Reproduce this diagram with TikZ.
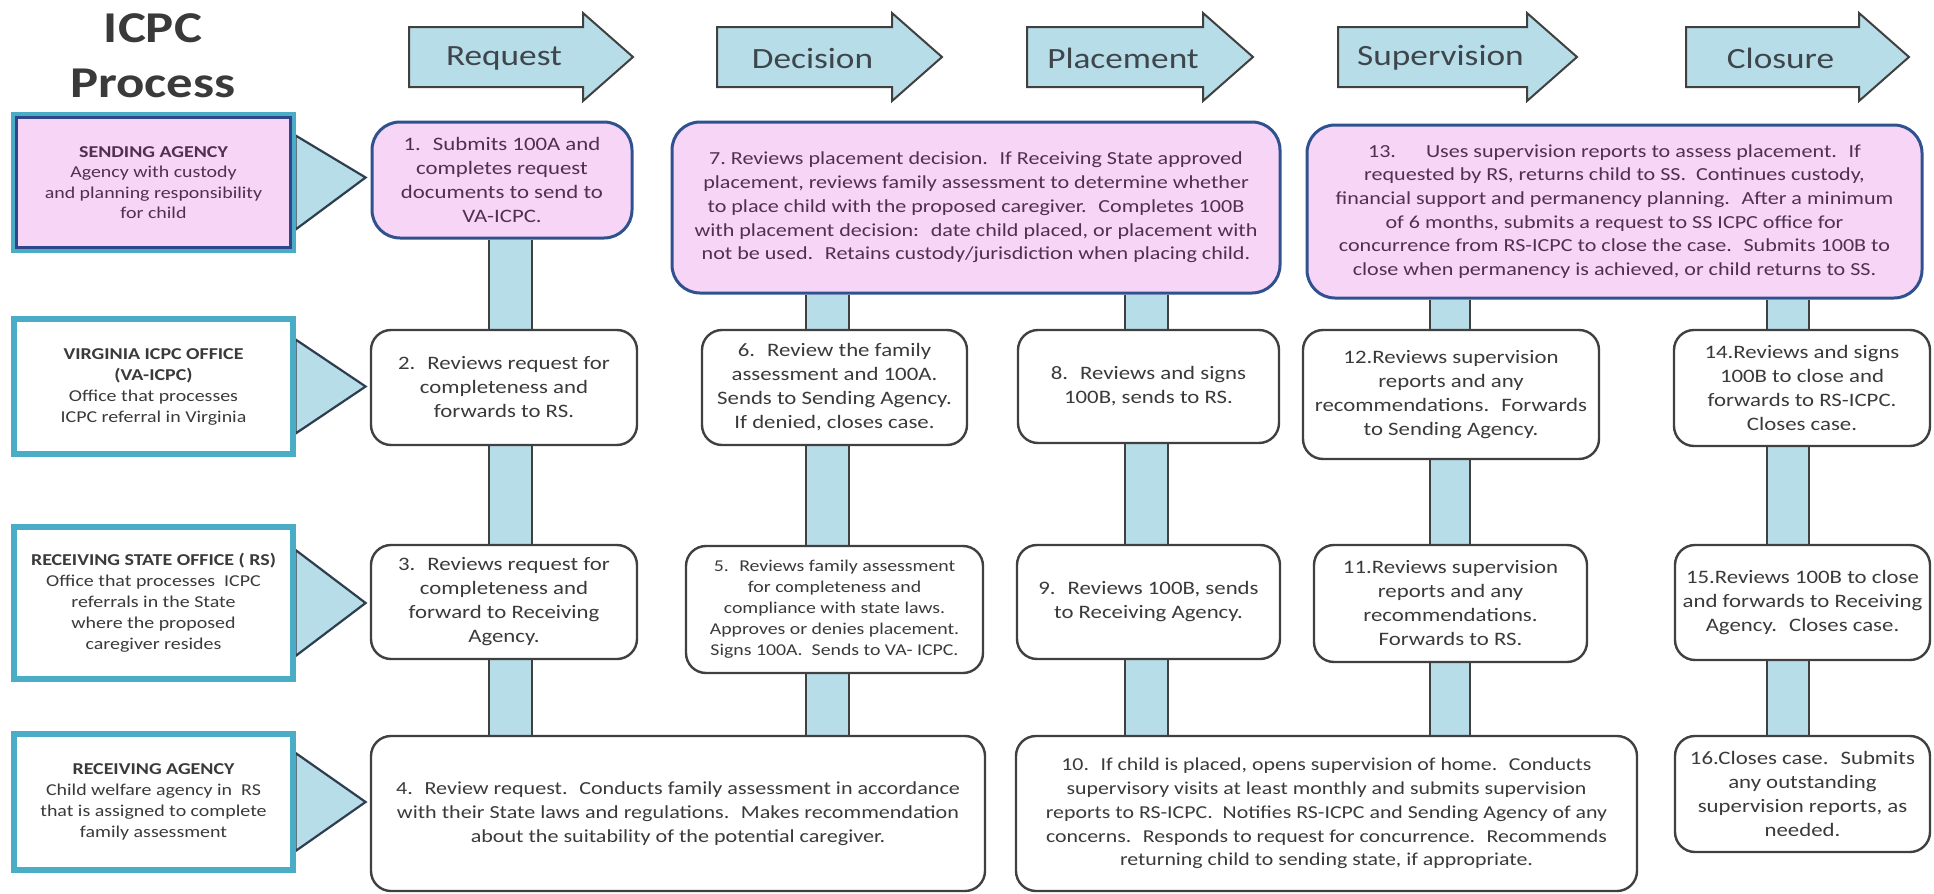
\documentclass[tikz,border=0pt]{standalone}
\usepackage{fontspec}
\setmainfont{Carlito}[FakeStretch=1.2]
\usetikzlibrary{calc}
\pgfdeclarelayer{bg}
\pgfsetlayers{bg,main}
\definecolor{lb}{RGB}{183,221,232}
\definecolor{pinkfill}{RGB}{246,213,246}
\definecolor{pinkborder}{RGB}{47,82,143}
\definecolor{pinktext}{RGB}{78,49,80}
\definecolor{tealc}{RGB}{75,172,198}
\definecolor{darkblue}{RGB}{47,70,140}
\definecolor{txtgray}{RGB}{58,58,58}
\definecolor{boxgray}{RGB}{64,64,64}
\definecolor{tristroke}{RGB}{46,62,78}
\definecolor{headtxt}{RGB}{62,70,76}
\tikzset{
  whitebox/.style={draw=boxgray, line width=1.2pt, rounded corners=10pt, fill=white,
    align=center, inner sep=2pt, text=txtgray, font=\fontsize{9.5}{12}\selectfont},
  smallbox/.style={whitebox, font=\fontsize{8.25}{10.5}\selectfont},
  widebox/.style={whitebox, font=\fontsize{9.2}{11.9}\selectfont},
  pinkbox/.style={draw=pinkborder, line width=1.5pt, rounded corners=14pt, fill=pinkfill,
    align=center, inner sep=2pt, text=pinktext, font=\fontsize{9.5}{11.85}\selectfont},
  widepink/.style={pinkbox, font=\fontsize{9.2}{11.85}\selectfont},
  labelbox/.style={draw=tealc, line width=2.6pt, fill=white, align=center, inner sep=2pt,
    text=txtgray, font=\fontsize{8.3}{10.5}\selectfont},
  tri/.style={fill=lb, draw=tristroke, line width=1.1pt, line join=miter},
  harrowstyle/.style={fill=lb, draw=boxgray, line width=1pt, line join=miter},
  headtext/.style={text=headtxt, font=\fontsize{14.7}{17}\selectfont, inner sep=0pt},
  linkline/.style={draw=boxgray, line width=1pt}
}
\newcommand\bx[7]{%
  \node[#2, minimum width={(#5-#3)*0.5pt}, minimum height={(#6-#4)*0.5pt}]
    (#1) at ({(#3+#5)/2},{(#4+#6)/2}) {#7};}
\newcommand\vlink[4]{%
  \coordinate (vl) at (#1,0); \coordinate (vr) at (#2,0);
  \fill[lb] (vl |- #3.south) rectangle (vr |- #4.north);
  \draw[linkline] (vl |- #3.south) -- (vl |- #4.north) (vr |- #3.south) -- (vr |- #4.north);}
\newcommand\harrow[4]{%
  \filldraw[harrowstyle] (#2,27) -- ({#3-50},27) -- ({#3-50},13) -- (#3,57)
    -- ({#3-50},101) -- ({#3-50},87) -- (#2,87) -- cycle;
  \node[headtext] (#1) at ({(#2+#3-50)/2+8},58) {#4};}
\newcommand\tripoint[3]{%
  \filldraw[tri] ($(#1.east)+(0,#2)$) -- ($(#1.east)+(35pt,#3)$) -- ($(#1.east)+(0,-#2)$) -- cycle;}
\newcommand\capsf[1]{{\bfseries #1}}
\begin{document}
\begin{tikzpicture}[x=0.5pt,y=-0.5pt]
\useasboundingbox (0,0) rectangle (1934,894);

% title
\node[text=txtgray, font=\fontsize{22}{27.5}\selectfont\bfseries, align=center] (title) at (153,56) {ICPC\\Process};

% header arrows
\harrow{hreq}{409}{633}{Request}
\harrow{hdec}{717}{942}{Decision}
\harrow{hpla}{1027}{1253}{Placement}
\harrow{hsup}{1338}{1577}{Supervision}
\harrow{hclo}{1686}{1909}{Closure}

% left labels
\bx{LS}{labelbox, fill=pinkfill, text=pinktext, font=\fontsize{8.3}{10.15}\selectfont}{14}{115}{293}{250}{\capsf{SENDING AGENCY}\\Agency with custody\\and planning responsibility\\for child}
\draw[darkblue, line width=1.3pt] ($(LS.north west)+(2.6pt,-2.6pt)$) rectangle ($(LS.south east)+(-2.6pt,2.6pt)$);
\bx{LV}{labelbox}{14}{319}{293}{454}{\capsf{VIRGINIA ICPC OFFICE}\\\capsf{(VA-ICPC)}\\Office that processes\\ICPC referral in Virginia}
\bx{LR}{labelbox}{14}{527}{293}{679}{\capsf{RECEIVING STATE OFFICE ( RS)}\\Office that processes~ ICPC\\referrals in the State\\where the proposed\\caregiver resides}
\bx{LA}{labelbox}{14}{734}{293}{870}{\capsf{RECEIVING AGENCY}\\Child welfare agency in~ RS\\that is assigned to complete\\family assessment}

% row 1
\bx{b1}{pinkbox}{372}{122}{632}{238}{1.~ Submits 100A and\\completes request\\documents to send to\\VA-ICPC.}
\bx{b7}{widepink}{672}{122}{1280}{293}{7.~Reviews placement decision.~ If Receiving State approved\\placement, reviews family assessment to determine whether\\to place child with the proposed caregiver.~ Completes 100B\\with placement decision:~ date child placed, or placement with\\not be used.~ Retains custody/jurisdiction when placing child.}
\bx{b13}{widepink}{1307}{125}{1922}{298}{13.\hspace{15pt}Uses supervision reports to assess placement.~ If\\requested by RS, returns child to SS.~ Continues custody,\\financial support and permanency planning.~ After a minimum\\of 6 months, submits a request to SS ICPC office for\\concurrence from RS-ICPC to close the case.~ Submits 100B to\\close when permanency is achieved, or child returns to SS.}

% row 2
\bx{b2}{whitebox}{371}{330}{637}{445}{2.~ Reviews request for\\completeness and\\forwards to RS.}
\bx{b6}{whitebox}{702}{330}{967}{445}{6.~ Review the family\\assessment and 100A.\\Sends to Sending Agency.\\If denied, closes case.}
\bx{b8}{whitebox}{1018}{330}{1279}{443}{8.~ Reviews and signs\\100B, sends to RS.}
\bx{b12}{whitebox}{1303}{330}{1599}{459}{12.Reviews supervision\\reports and any\\recommendations.~ Forwards\\to Sending Agency.}
\bx{b14}{whitebox}{1674}{330}{1930}{446}{14.Reviews and signs\\100B to close and\\forwards to RS-ICPC.\\Closes case.}

% row 3
\bx{b3}{whitebox}{371}{545}{637}{659}{3.~ Reviews request for\\completeness and\\forward to Receiving\\Agency.}
\bx{b5}{smallbox}{686}{546}{983}{673}{5.~ Reviews family assessment\\for completeness and\\compliance with state laws.\\Approves or denies placement.\\Signs 100A.~ Sends to VA- ICPC.}
\bx{b9}{whitebox}{1017}{545}{1280}{659}{9.~ Reviews 100B, sends\\to Receiving Agency.}
\bx{b11}{whitebox}{1314}{545}{1587}{662}{11.Reviews supervision\\reports and any\\recommendations.\\Forwards to RS.}
\bx{b15}{whitebox}{1675}{545}{1930}{660}{15.Reviews 100B to close\\and forwards to Receiving\\Agency.~ Closes case.}

% row 4
\bx{b4}{widebox}{371}{736}{985}{891}{4.~ Review request.~ Conducts family assessment in accordance\\with their State laws and regulations.~ Makes recommendation\\about the suitability of the potential caregiver.}
\bx{b10}{widebox, font=\fontsize{9.1}{11.9}\selectfont}{1016}{736}{1637}{891}{10.~ If child is placed, opens supervision of home.~ Conducts\\supervisory visits at least monthly and submits supervision\\reports to RS-ICPC.~ Notifies RS-ICPC and Sending Agency of any\\concerns.~ Responds to request for concurrence.~ Recommends\\returning child to sending state, if appropriate.}
\bx{b16}{whitebox}{1675}{736}{1930}{852}{16.Closes case.~ Submits\\any outstanding\\supervision reports, as\\needed.}

\begin{pgfonlayer}{bg}
  \fill[white] (0,0) rectangle (1934,894);
  \tripoint{LS}{23.5pt}{2.5pt}
  \tripoint{LV}{23.5pt}{0pt}
  \tripoint{LR}{26.5pt}{0pt}
  \tripoint{LA}{24.5pt}{0pt}
  \vlink{489}{532}{b1}{b2}
  \vlink{489}{532}{b2}{b3}
  \vlink{489}{532}{b3}{b4}
  \vlink{806}{849}{b7}{b6}
  \vlink{806}{849}{b6}{b5}
  \vlink{806}{849}{b5}{b4}
  \vlink{1125}{1168}{b7}{b8}
  \vlink{1125}{1168}{b8}{b9}
  \vlink{1125}{1168}{b9}{b10}
  \vlink{1430}{1470}{b13}{b12}
  \vlink{1430}{1470}{b12}{b11}
  \vlink{1430}{1470}{b11}{b10}
  \vlink{1767}{1809}{b13}{b14}
  \vlink{1767}{1809}{b14}{b15}
  \vlink{1767}{1809}{b15}{b16}
\end{pgfonlayer}
\end{tikzpicture}
\end{document}
